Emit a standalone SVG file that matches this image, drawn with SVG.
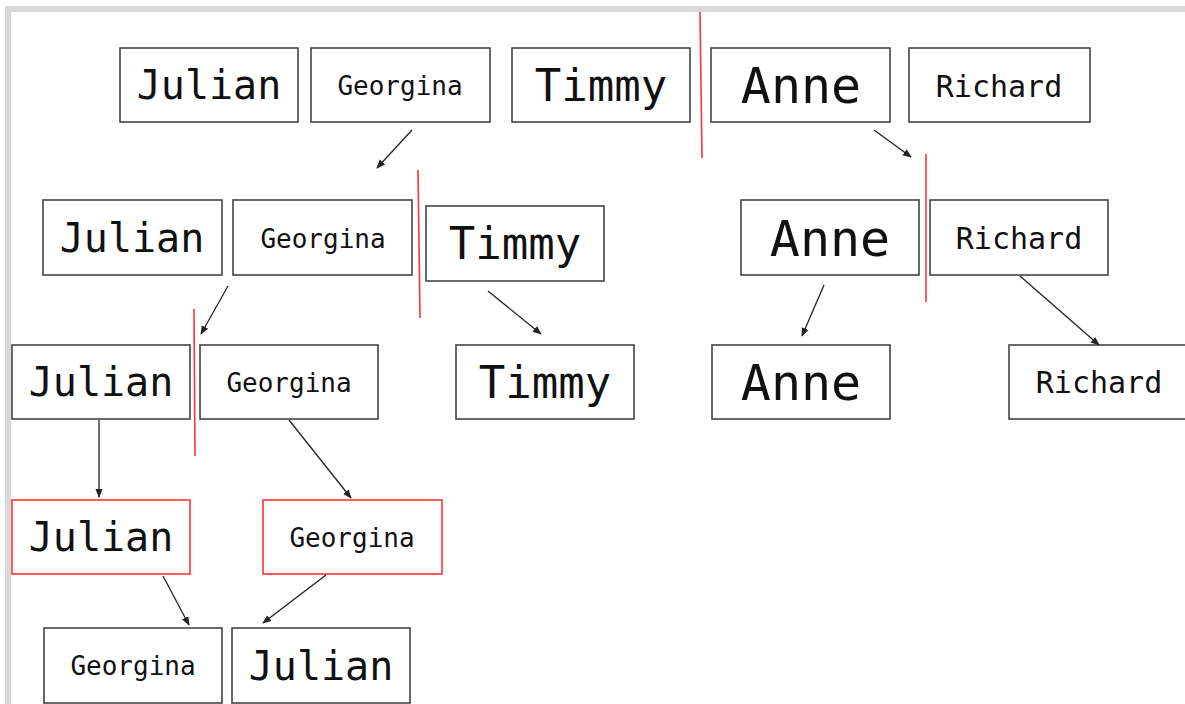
<svg xmlns="http://www.w3.org/2000/svg" width="1185" height="704" viewBox="0 0 1185 704">
<style>
.b{fill:#fff;stroke:#444;stroke-width:1.6}
.r{fill:#fff;stroke:#f33;stroke-width:1.6}
.t{font-family:"DejaVu Sans Mono","Liberation Mono",monospace;fill:#111;text-anchor:middle}
.s26{font-size:26px}.s30{font-size:30px}.s40{font-size:40px}.s45{font-size:44px}.s50{font-size:50px}
.c{stroke:#222;stroke-width:1.3;fill:none;marker-end:url(#ah)}
.d{stroke:#f33;stroke-width:1.6;fill:none}
</style>
<defs>
<marker id="ah" viewBox="0 0 10 10" refX="9" refY="5" markerWidth="9" markerHeight="9" markerUnits="userSpaceOnUse" orient="auto">
<path d="M0,1 L10,5 L0,9 Z" fill="#222"/>
</marker>
</defs>
<rect x="0" y="0" width="1185" height="704" fill="#fff"/>
<rect x="5" y="6" width="1180" height="6" fill="#d9d9d9"/>
<rect x="5" y="6" width="6" height="698" fill="#d9d9d9"/>

<g id="dividers">
<line class="d" x1="700" y1="12" x2="702" y2="158"/>
<line class="d" x1="926" y1="154" x2="926" y2="302"/>
<line class="d" x1="418" y1="170" x2="420" y2="318"/>
<line class="d" x1="194" y1="309" x2="195" y2="456"/>
</g>

<g id="r1-julian"><rect class="b" x="120" y="48" width="178" height="74"/><text class="t s40" x="209" y="99">Julian</text></g>
<g id="r1-georgina"><rect class="b" x="311" y="48" width="179" height="74"/><text class="t s26" x="400" y="95">Georgina</text></g>
<g id="r1-timmy"><rect class="b" x="512" y="48" width="178" height="74"/><text class="t s45" x="601" y="101">Timmy</text></g>
<g id="r1-anne"><rect class="b" x="711" y="48" width="179" height="74"/><text class="t s50" x="801" y="103">Anne</text></g>
<g id="r1-richard"><rect class="b" x="909" y="48" width="181" height="74"/><text class="t s30" x="999" y="97">Richard</text></g>

<g id="r2-julian"><rect class="b" x="43" y="200" width="179" height="75"/><text class="t s40" x="132" y="252">Julian</text></g>
<g id="r2-georgina"><rect class="b" x="233" y="200" width="179" height="75"/><text class="t s26" x="323" y="248">Georgina</text></g>
<g id="r2-timmy"><rect class="b" x="426" y="206" width="178" height="75"/><text class="t s45" x="515" y="259">Timmy</text></g>
<g id="r2-anne"><rect class="b" x="741" y="200" width="178" height="75"/><text class="t s50" x="830" y="256">Anne</text></g>
<g id="r2-richard"><rect class="b" x="930" y="200" width="178" height="75"/><text class="t s30" x="1019" y="249">Richard</text></g>

<g id="r3-julian"><rect class="b" x="12" y="345" width="178" height="74"/><text class="t s40" x="101" y="396">Julian</text></g>
<g id="r3-georgina"><rect class="b" x="200" y="345" width="178" height="74"/><text class="t s26" x="289" y="392">Georgina</text></g>
<g id="r3-timmy"><rect class="b" x="456" y="345" width="178" height="74"/><text class="t s45" x="545" y="398">Timmy</text></g>
<g id="r3-anne"><rect class="b" x="712" y="345" width="178" height="74"/><text class="t s50" x="801" y="400">Anne</text></g>
<g id="r3-richard"><rect class="b" x="1009" y="345" width="180" height="74"/><text class="t s30" x="1099" y="393">Richard</text></g>

<g id="r4-julian"><rect class="r" x="12" y="500" width="178" height="74"/><text class="t s40" x="101" y="551">Julian</text></g>
<g id="r4-georgina"><rect class="r" x="263" y="500" width="179" height="74"/><text class="t s26" x="352" y="547">Georgina</text></g>

<g id="r5-georgina"><rect class="b" x="44" y="628" width="178" height="75"/><text class="t s26" x="133" y="675">Georgina</text></g>
<g id="r5-julian"><rect class="b" x="232" y="628" width="178" height="75"/><text class="t s40" x="321" y="680">Julian</text></g>

<g id="connectors">
<line class="c" x1="412" y1="130" x2="377" y2="168"/>
<line class="c" x1="874" y1="130" x2="911" y2="157"/>
<line class="c" x1="228" y1="286" x2="201" y2="334"/>
<line class="c" x1="488" y1="291" x2="541" y2="334"/>
<line class="c" x1="824" y1="285" x2="802" y2="336"/>
<line class="c" x1="1020" y1="276" x2="1099" y2="345"/>
<line class="c" x1="99" y1="420" x2="99" y2="497"/>
<line class="c" x1="289" y1="420" x2="351" y2="498"/>
<line class="c" x1="163" y1="576" x2="189" y2="625"/>
<line class="c" x1="326" y1="575" x2="263" y2="623"/>
</g>
</svg>
